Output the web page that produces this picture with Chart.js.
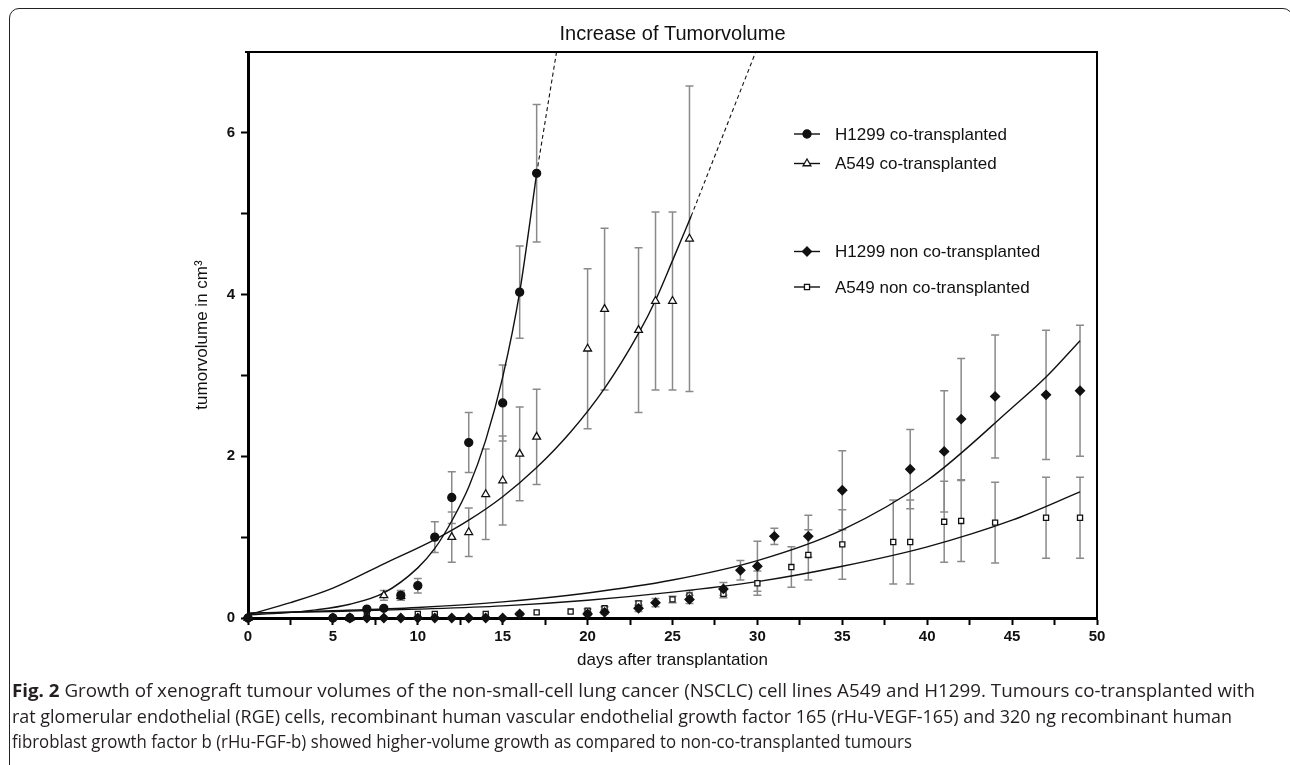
<!DOCTYPE html>
<html><head><meta charset="utf-8">
<script src="https://cdn.jsdelivr.net/npm/chart.js@4.4.1/dist/chart.umd.min.js"></script>
<style>
html,body{margin:0;padding:0;background:#fff;}
body{width:1290px;height:765px;position:relative;overflow:hidden;}
#frame{position:absolute;left:9px;top:8px;width:1284px;height:820px;border:1.5px solid #222;border-radius:10px;box-sizing:border-box;}
#c{position:absolute;left:0;top:0;}
.cap{position:absolute;left:12px;white-space:nowrap;font-family:"Open Sans","Noto Sans",sans-serif;font-size:17.5px;color:#231f20;transform-origin:0 50%;line-height:20px;}
.cap b{font-weight:700;}
</style></head>
<body>
<div id="frame"></div>
<canvas id="c" width="1290" height="765"></canvas>
<div class="cap" id="l1" style="top:680px"><b>Fig. 2</b> Growth of xenograft tumour volumes of the non-small-cell lung cancer (NSCLC) cell lines A549 and H1299. Tumours co-transplanted with</div>
<div class="cap" id="l2" style="top:705.5px">rat glomerular endothelial (RGE) cells, recombinant human vascular endothelial growth factor 165 (rHu-VEGF-165) and 320 ng recombinant human</div>
<div class="cap" id="l3" style="top:731px">fibroblast growth factor b (rHu-FGF-b) showed higher-volume growth as compared to non-co-transplanted tumours</div>
<script>
// ---- data ----
const chartTitle = "Increase of Tumorvolume";
const xAxisTitle = "days after transplantation";
const yAxisTitle = "tumorvolume in cm³";
const seriesLabels = ["H1299 co-transplanted", "A549 co-transplanted", "H1299 non co-transplanted", "A549 non co-transplanted"];

const h1299CoDays = [0, 5, 6, 7, 8, 9, 10, 11, 12, 13, 15, 16, 17];
const h1299CoVol  = [0, 0, 0, 0.11, 0.12, 0.28, 0.40, 1.00, 1.49, 2.17, 2.66, 4.03, 5.50];
const h1299CoErr  = [0, 0, 0, 0.02, 0.02, 0.06, 0.09, 0.19, 0.32, 0.37, 0.47, 0.57, 0.85];

const a549CoDays = [0, 6, 8, 9, 12, 13, 14, 15, 16, 17, 20, 21, 23, 24, 25, 26];
const a549CoVol  = [0, 0, 0.28, 0.27, 1.00, 1.06, 1.53, 1.70, 2.03, 2.24, 3.33, 3.82, 3.56, 3.92, 3.92, 4.69];
const a549CoErr  = [0, 0, 0.06, 0.05, 0.31, 0.30, 0.56, 0.55, 0.58, 0.59, 0.99, 1.00, 1.02, 1.10, 1.10, 1.89];

const h1299NonDays = [0, 5, 6, 7, 8, 9, 10, 11, 12, 13, 14, 15, 16, 20, 21, 23, 24, 26, 28, 29, 30, 31, 33, 35, 39, 41, 42, 44, 47, 49];
const h1299NonVol  = [0, 0, 0, 0, 0, 0, 0, 0, 0, 0, 0, 0, 0.05, 0.05, 0.07, 0.12, 0.19, 0.23, 0.36, 0.59, 0.64, 1.01, 1.01, 1.58, 1.84, 2.06, 2.46, 2.74, 2.76, 2.81];
const h1299NonErr  = [0, 0, 0, 0, 0, 0, 0, 0, 0, 0, 0, 0, 0.02, 0.02, 0.02, 0.04, 0.05, 0.05, 0.08, 0.12, 0.31, 0.10, 0.26, 0.49, 0.49, 0.75, 0.75, 0.76, 0.80, 0.81];

const a549NonDays = [5, 6, 7, 10, 11, 14, 17, 19, 20, 21, 23, 25, 26, 28, 30, 32, 33, 35, 38, 39, 41, 42, 44, 47, 49];
const a549NonVol  = [0, 0, 0.03, 0.05, 0.05, 0.05, 0.07, 0.08, 0.09, 0.12, 0.18, 0.23, 0.28, 0.30, 0.43, 0.63, 0.78, 0.91, 0.94, 0.94, 1.19, 1.20, 1.18, 1.24, 1.24];
const a549NonErr  = [0, 0, 0, 0, 0, 0, 0, 0, 0.02, 0.02, 0.03, 0.04, 0.06, 0.05, 0.15, 0.25, 0.31, 0.43, 0.52, 0.52, 0.50, 0.50, 0.50, 0.50, 0.50];

// fitted curves
const h1299CoFitDays = [0, 2, 4, 6, 8, 10, 11, 12, 13, 14, 15, 16, 17];
const h1299CoFitVol  = [0.04, 0.06, 0.10, 0.17, 0.31, 0.62, 0.86, 1.20, 1.62, 2.20, 2.98, 4.03, 5.50];
const h1299CoExtDays = [17, 18.17];
const h1299CoExtVol  = [5.50, 7.0];

const a549CoFitDays = [0, 2.5, 5, 8, 11, 13, 15, 17, 19, 21, 23, 24, 25, 26.1];
const a549CoFitVol  = [0.04, 0.19, 0.37, 0.67, 0.97, 1.21, 1.50, 1.86, 2.30, 2.84, 3.52, 3.93, 4.42, 4.97];
const a549CoExtDays = [26.1, 29.9];
const a549CoExtVol  = [4.97, 7.0];

const h1299NonFitDays = [0, 5, 10, 15, 20, 25, 30, 35, 40, 45, 47, 49];
const h1299NonFitVol  = [0.06, 0.09, 0.13, 0.20, 0.31, 0.47, 0.71, 1.09, 1.70, 2.60, 2.98, 3.43];

const a549NonFitDays = [0, 5, 10, 15, 20, 25, 30, 35, 40, 45, 49];
const a549NonFitVol  = [0.06, 0.08, 0.11, 0.15, 0.22, 0.32, 0.45, 0.64, 0.88, 1.21, 1.56];

const xTickValues = [0, 5, 10, 15, 20, 25, 30, 35, 40, 45, 50];
const yTickValues = [0, 2, 4, 6];

// ---- helpers ----
const pts = (xs, ys) => xs.map((x, i) => ({x: x, y: ys[i]}));
const BLACK = '#111';
const FAMILY = 'Arial, "Liberation Sans", sans-serif';

function markerDs(label, xs, ys, errs, style, radius, fill) {
  return {
    label: label, type: 'scatter', data: pts(xs, ys), errors: errs,
    pointStyle: style, pointRadius: radius, pointHoverRadius: radius,
    pointBackgroundColor: fill, pointBorderColor: BLACK, pointBorderWidth: 1.3,
    showLine: false, clip: false, isMarker: true
  };
}
function curveDs(xs, ys, dashed) {
  return {
    label: '', type: 'line', data: pts(xs, ys), borderColor: BLACK,
    borderWidth: dashed ? 1.1 : 1.4, borderDash: dashed ? [4, 3] : [],
    pointRadius: 0, fill: false, cubicInterpolationMode: 'monotone', tension: 0.4
  };
}

const legendRows = [134, 163.5, 251.5, 287];

const errorBars = {
  id: 'errorBars',
  beforeDatasetsDraw(chart) {
    const {ctx, scales: {x, y}} = chart;
    ctx.save();
    ctx.strokeStyle = '#8a8a8a'; ctx.lineWidth = 1.5;
    chart.data.datasets.forEach(ds => {
      if (!ds.errors) return;
      ds.data.forEach((p, i) => {
        const e = ds.errors[i]; if (!e) return;
        const px = x.getPixelForValue(p.x);
        const t = y.getPixelForValue(p.y + e), b = y.getPixelForValue(Math.max(0, p.y - e));
        ctx.beginPath();
        ctx.moveTo(px, t); ctx.lineTo(px, b);
        ctx.moveTo(px - 4, t); ctx.lineTo(px + 4, t);
        ctx.moveTo(px - 4, b); ctx.lineTo(px + 4, b);
        ctx.stroke();
      });
    });
    ctx.restore();
  }
};

const decor = {
  id: 'decor',
  afterDraw(chart) {
    const {ctx, chartArea: a} = chart;
    ctx.save();
    ctx.strokeStyle = '#000';
    ctx.lineWidth = 2.2;
    ctx.beginPath(); ctx.moveTo(a.left - 3, a.top); ctx.lineTo(a.right + 1, a.top); ctx.stroke();
    ctx.lineWidth = 2;
    ctx.beginPath(); ctx.moveTo(a.right, a.top); ctx.lineTo(a.right, a.bottom); ctx.stroke();
    ctx.fillStyle = '#111';
    ctx.font = '20px ' + FAMILY;
    ctx.textAlign = 'center'; ctx.textBaseline = 'alphabetic';
    ctx.fillText(chartTitle, (a.left + a.right) / 2, 40);
    const drawPoint = Chart.helpers && Chart.helpers.drawPoint;
    ctx.font = '17px ' + FAMILY;
    ctx.textAlign = 'left'; ctx.textBaseline = 'middle';
    let k = 0;
    chart.data.datasets.forEach(ds => {
      if (!ds.isMarker) return;
      const yy = legendRows[k++];
      ctx.strokeStyle = BLACK; ctx.lineWidth = 1.4;
      ctx.beginPath(); ctx.moveTo(794, yy); ctx.lineTo(820, yy); ctx.stroke();
      ctx.fillStyle = ds.pointBackgroundColor; ctx.strokeStyle = BLACK; ctx.lineWidth = 1.3;
      if (drawPoint) drawPoint(ctx, {pointStyle: ds.pointStyle, radius: ds.pointRadius, rotation: 0, borderWidth: 1.3}, 807, yy);
      ctx.fillStyle = '#111';
      ctx.fillText(ds.label, 835, yy + 1);
    });
    ctx.restore();
  }
};

const tickFont = {family: FAMILY, size: 15, weight: 'bold'};
const titleFont = {family: FAMILY, size: 17, weight: 'normal'};

new Chart(document.getElementById('c'), {
  type: 'scatter',
  data: {
    datasets: [
      markerDs(seriesLabels[0], h1299CoDays, h1299CoVol, h1299CoErr, 'circle', 4, BLACK),
      markerDs(seriesLabels[1], a549CoDays, a549CoVol, a549CoErr, 'triangle', 4.5, '#fff'),
      markerDs(seriesLabels[2], h1299NonDays, h1299NonVol, h1299NonErr, 'rectRot', 4.5, BLACK),
      markerDs(seriesLabels[3], a549NonDays, a549NonVol, a549NonErr, 'rect', 3.6, '#fff'),
      curveDs(h1299CoFitDays, h1299CoFitVol, false),
      curveDs(h1299CoExtDays, h1299CoExtVol, true),
      curveDs(a549CoFitDays, a549CoFitVol, false),
      curveDs(a549CoExtDays, a549CoExtVol, true),
      curveDs(h1299NonFitDays, h1299NonFitVol, false),
      curveDs(a549NonFitDays, a549NonFitVol, false)
    ]
  },
  options: {
    responsive: false, animation: false, devicePixelRatio: 1,
    layout: {padding: {left: 190, top: 52, right: 193, bottom: 87}},
    plugins: {legend: {display: false}, tooltip: {enabled: false}, title: {display: false}},
    scales: {
      x: {
        type: 'linear', min: 0, max: 50,
        afterFit: s => { s.height = 60; },
        afterBuildTicks: s => { const t = []; for (let v = 0; v <= 50; v += 2.5) t.push({value: v}); s.ticks = t; },
        ticks: {
          font: tickFont, color: '#111', padding: 3, maxRotation: 0, autoSkip: false,
          callback: v => xTickValues.includes(v) ? String(v) : ''
        },
        grid: {drawOnChartArea: false, drawTicks: true, tickLength: 7, tickWidth: 2, tickColor: '#000'},
        border: {display: true, width: 3, color: '#000'},
        title: {display: true, text: xAxisTitle, color: '#111', padding: {top: 0, bottom: 7}, font: titleFont}
      },
      y: {
        type: 'linear', min: 0, max: 7,
        afterFit: s => { s.width = 58; },
        afterBuildTicks: s => { const t = []; for (let v = 0; v <= 6; v += 1) t.push({value: v}); s.ticks = t; },
        ticks: {
          font: tickFont, color: '#111', padding: 6, autoSkip: false,
          callback: v => yTickValues.includes(v) ? String(v) : ''
        },
        grid: {drawOnChartArea: false, drawTicks: true, tickLength: 7, tickWidth: 2, tickColor: '#000'},
        border: {display: true, width: 3, color: '#000'},
        title: {display: true, text: yAxisTitle, color: '#111', padding: {top: 2, bottom: 0}, font: titleFont}
      }
    }
  },
  plugins: [errorBars, decor]
});

// caption lines fitted to the widths measured on the reference
const capTargets = {l1: 1243, l2: 1220, l3: 900};
function fitCaps() {
  Object.keys(capTargets).forEach(id => {
    const el = document.getElementById(id);
    el.style.transform = 'none';
    const w = el.getBoundingClientRect().width;
    el.style.transform = 'scaleX(' + (capTargets[id] / w) + ')';
  });
}
fitCaps();
if (document.fonts && document.fonts.ready) document.fonts.ready.then(fitCaps);
</script>
</body></html>
